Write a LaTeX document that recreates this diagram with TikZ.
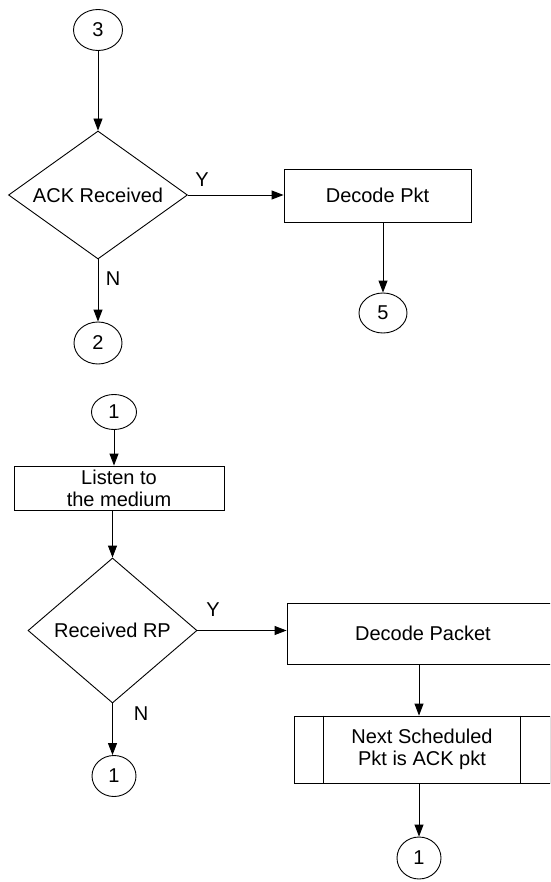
\documentclass[tikz,border=0pt]{standalone}
\usepackage{fontspec}
\setmainfont{Liberation Sans}
\usetikzlibrary{shapes.geometric,arrows.meta}
\begin{document}
\begin{tikzpicture}[x=1pt,y=-1pt,
  every node/.style={font=\fontsize{20}{22}\selectfont},
  conn/.style={ellipse,draw,inner sep=0pt,line width=0.9pt},
  dec/.style={diamond,draw,inner sep=0pt,line width=0.9pt},
  proc/.style={rectangle,draw,inner sep=0pt,line width=0.9pt,align=center},
  arr/.style={line width=0.9pt,-{Triangle[length=12pt,width=9pt]}},
  lbl/.style={inner sep=0pt}
]
\useasboundingbox (0,0) rectangle (550,882);
\clip (0,0) rectangle (550,882);

% ---- top chart ----
\node[conn,minimum width=49pt,minimum height=41pt] (c3) at (98,30) {3};
\node[dec,minimum width=179pt,minimum height=128pt,label=center:ACK Received] (d1) at (98,195) {};
\node[proc,minimum width=187pt,minimum height=53pt] (dp) at (377.5,195.5) {Decode Pkt};
\node[conn,minimum width=48pt,minimum height=40pt] (c5) at (383,313) {5};
\node[conn,minimum width=48pt,minimum height=42pt] (c2) at (98,343) {2};
\node[lbl] (y1) at (202,180) {Y};
\node[lbl] (n1) at (113,279) {N};

\draw[arr] (c3) -- (d1.north);
\draw[arr] (d1.east) -- (d1.east -| dp.west);
\draw[arr] (dp.south -| c5) -- (c5.north);
\draw[arr] (d1.south) -- (c2.north);

% ---- bottom chart ----
\node[conn,minimum width=45pt,minimum height=35pt] (c1a) at (114,412) {1};
\node[proc,minimum width=210pt,minimum height=44pt] (ls) at (119,488) {Listen to\\the medium};
\node[dec,minimum width=169pt,minimum height=145pt,label=center:Received RP] (d2) at (112.5,630.5) {};
\node[proc,minimum width=272pt,minimum height=61pt] (dpk) at (423,633.5) {Decode Packet};
\node[proc,minimum width=256pt,minimum height=67pt] (nx) at (422,749.5) {Next Scheduled\\Pkt is ACK pkt};
\draw[line width=0.9pt] ([xshift=30pt]nx.north west) -- ([xshift=30pt]nx.south west);
\draw[line width=0.9pt] ([xshift=-30pt]nx.north east) -- ([xshift=-30pt]nx.south east);
\node[conn,minimum width=44pt,minimum height=41pt] (c1b) at (114,776) {1};
\node[conn,minimum width=44pt,minimum height=42pt] (c1c) at (419,858) {1};
\node[lbl] (y2) at (213,610) {Y};
\node[lbl] (n2) at (141,714) {N};

\draw[arr] (c1a.south) -- (c1a.south |- ls.north);
\draw[arr] (d2.north |- ls.south) -- (d2.north);
\draw[arr] (d2.east) -- (d2.east -| dpk.west);
\draw[arr] (c1c |- dpk.south) -- (c1c |- nx.north);
\draw[arr] (d2.south) -- (d2.south |- c1b.north);
\draw[arr] (c1c |- nx.south) -- (c1c.north);
\end{tikzpicture}
\end{document}
